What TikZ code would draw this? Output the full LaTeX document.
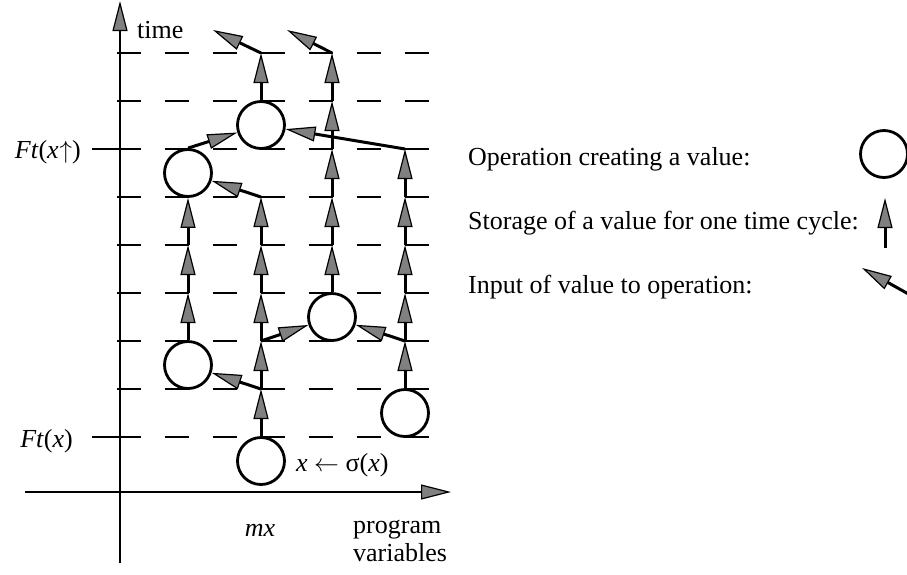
\documentclass[tikz,border=0pt]{standalone}
\usepackage{fontspec}
\setmainfont{Liberation Serif}
\usetikzlibrary{arrows.meta}
\definecolor{headgray}{RGB}{128,128,128}
\begin{document}
\begin{tikzpicture}[x=1pt,y=-1pt,
  every node/.style={font=\fontsize{26}{28}\selectfont},
  headtip/.tip={Triangle[length=30pt,width=15pt,fill=headgray,line width=1.2pt]},
  storearrow/.style={line width=3pt,-{headtip}},
  inputarrow/.style={line width=3pt,-{headtip}},
  axisline/.style={line width=2.8pt},
  gridline/.style={line width=2.6pt,dash pattern=on 24pt off 24pt},
  opnode/.style={circle,draw,line width=2.8pt,minimum size=47pt,inner sep=0pt}]
\useasboundingbox (0,0) rectangle (907,574);

% grid lines
\foreach \k in {0,...,8}{
  \draw[gridline] (117,{437-48*\k}) -- (430,{437-48*\k});
}
\draw[axisline] (92,437) -- (141,437);
\draw[axisline] (92,149) -- (141,149);

% axes
\coordinate (ybot) at (120,563);
\coordinate (ytop) at (120,1);
\coordinate (xleft) at (25,492);
\coordinate (xright) at (451,492);
\draw[axisline,-{headtip}] (ybot) -- (ytop);
\draw[axisline,-{headtip}] (xleft) -- (xright);

% axis labels
\node[anchor=west,inner sep=0pt] (tlabel) at (137,30) {time};
\node[anchor=east,inner sep=0pt] (ftup) at (81,152) {\textit{Ft}(\textit{x}\kern1pt$\uparrow$)};
\node[anchor=east,inner sep=0pt] (ft) at (73,441) {\textit{Ft}(\textit{x})};
\node[inner sep=0pt] (mx) at (260,530) {\textit{mx}};
\node[anchor=west,align=left,inner sep=0pt,font=\fontsize{26}{28}\selectfont] (pv) at (353,541) {program\\variables};

% operation circles
\node[opnode] (B) at (261,461) {};
\node[opnode] (D) at (405,413) {};
\node[opnode] (E) at (188,365) {};
\node[opnode] (F) at (332,317) {};
\node[opnode] (G) at (188,173) {};
\node[opnode] (H) at (261,125) {};
\node[anchor=west,inner sep=0pt] (assign) at (296,465) {\textit{x} $\leftarrow$ σ(\textit{x})};

% grid points
\foreach \c/\x in {1/188,2/261,3/332,4/405}{
  \foreach \k in {0,...,8}{
    \coordinate (p\c-\k) at (\x,{437-48*\k});
  }
}
\coordinate (t2) at (213,30);
\coordinate (t3) at (287,30);

% column 2
\draw[storearrow] (B.north) -- (p2-1);
\draw[inputarrow] (p2-1) -- (E);
\draw[storearrow] (p2-1) -- (p2-2);
\draw[inputarrow] (p2-2) -- (F);
\draw[storearrow] (p2-2) -- (p2-3);
\draw[storearrow] (p2-3) -- (p2-4);
\draw[storearrow] (p2-4) -- (p2-5);
\draw[inputarrow] (p2-5) -- (G);
\draw[storearrow] (H.north) -- (p2-8);
\draw[inputarrow] (p2-8) -- (t2);

% column 1
\draw[storearrow] (E.north) -- (p1-3);
\draw[storearrow] (p1-3) -- (p1-4);
\draw[storearrow] (p1-4) -- (G.south);
\draw[inputarrow] (G.north) -- (H);

% column 4
\draw[storearrow] (D.north) -- (p4-2);
\draw[inputarrow] (p4-2) -- (F);
\draw[storearrow] (p4-2) -- (p4-3);
\draw[storearrow] (p4-3) -- (p4-4);
\draw[storearrow] (p4-4) -- (p4-5);
\draw[storearrow] (p4-5) -- (p4-6);
\draw[inputarrow] (p4-6) -- (H);

% column 3
\draw[storearrow] (F.north) -- (p3-4);
\draw[storearrow] (p3-4) -- (p3-5);
\draw[storearrow] (p3-5) -- (p3-6);
\draw[storearrow] (p3-6) -- (p3-7);
\draw[storearrow] (p3-7) -- (p3-8);
\draw[inputarrow] (p3-8) -- (t3);

% legend
\node[anchor=base west,inner sep=0pt] (leg1) at (468,165) {Operation creating a value:};
\node[anchor=base west,inner sep=0pt] (leg2) at (468,229) {Storage of a value for one time cycle:};
\node[anchor=base west,inner sep=0pt] (leg3) at (468,293) {Input of value to operation:};
\node[opnode] (legop) at (884,154) {};
\coordinate (lsA) at (885,248);
\coordinate (lsB) at (885,198);
\coordinate (liA) at (912,296);
\coordinate (liB) at (862,268);
\draw[storearrow] (lsA) -- (lsB);
\draw[inputarrow] (liA) -- (liB);
\end{tikzpicture}
\end{document}
